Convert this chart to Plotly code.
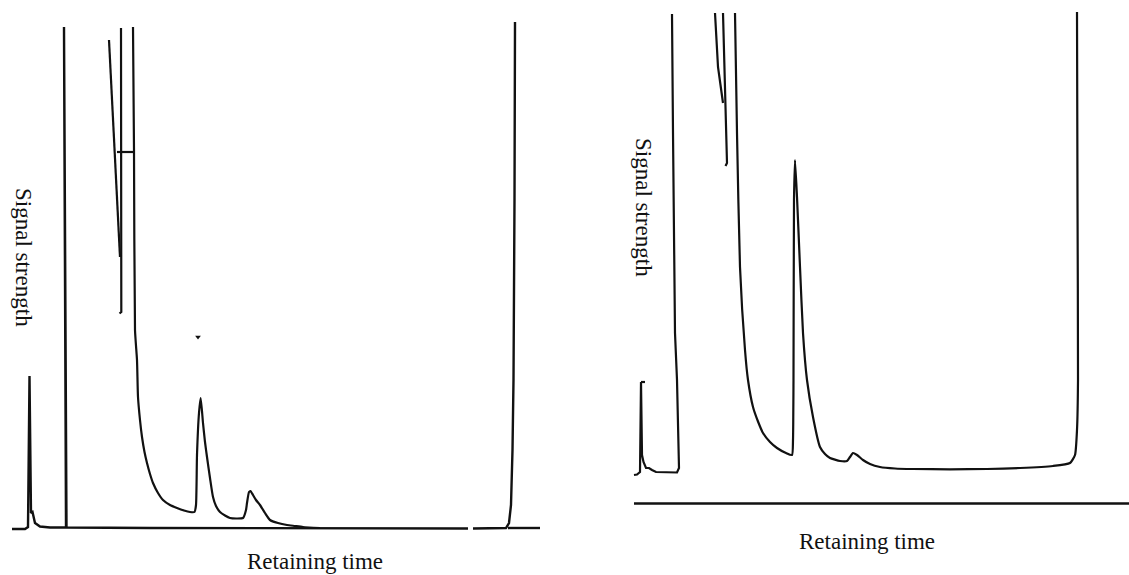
import plotly.graph_objects as go

# ---------------- Left chromatogram (time units, signal units above baseline) ----------------
left_base_t = [12, 25, 28, 29.5, 31, 32.5, 35, 40, 50, 66, 64, 66.5, 150, 300, 468,
               None, 473, 506, 509, 511, 512.5, 513.5, 514.5, 515,
               None, 508, 540]
left_base_s = [-1, -1, 1, 152, 15, 16, 5, 1.5, 0.5, 0.5, 501, 0.5, 0, 0, -0.5,
               None, -0.5, 0, 5, 23, 78, 148, 328, 506,
               None, 0, 0]

left_main_t = [133, 134, 135, 137, 138, 140, 142, 144.5, 147, 150, 153, 158, 163, 170, 177, 184, 190,
               194.5, 196, 197, 199, 200.7, 203, 205, 207, 210, 213, 216, 220, 225, 230, 237, 243,
               246, 247, 249, 250.5, 253, 256, 260, 265, 270, 278, 287, 295, 303, 320]
left_main_s = [501, 378, 198, 168, 131, 108, 91, 76, 65, 54, 45, 35, 28, 23, 20, 17.5, 16,
               16, 23, 73, 115, 130, 105, 86, 71, 50, 31, 22, 16, 12.5, 10, 9.5, 10,
               18, 25, 36, 37, 33, 28, 23, 15, 8, 5, 3, 2, 1, 0]

left_pen_t = [109, 120, None, 121, 121.3, 119.5, None, 117, 135]
left_pen_s = [488, 271, None, 500, 216, 214.5, None, 376, 376]

left_mark_t = [198]
left_mark_s = [191]

# ---------------- Right chromatogram ----------------
right_axis_t = [14, 509]
right_axis_s = [0, 0]

right_start_t = [14, 17, 20, 21, 22, 23.5, 26, 29, 32, 36, 57, 59, 57, 55, 53, 52,
                 None, 21, 25]
right_start_s = [28.5, 29, 31.5, 121.5, 48.5, 41.5, 35.5, 35.5, 33.5, 31.5, 31, 35.5, 123.5, 170.5, 370.5, 489.5,
                 None, 121.5, 121.5]

right_pen_t = [95, 98, 103, None, 103, 105, 107, 105.5]
right_pen_s = [490.5, 436.5, 400.5, None, 490.5, 403.5, 340.5, 337.5]

right_main_t = [115, 117, 120, 125, 128, 133, 138, 143, 150, 157, 166, 172, 173, 173.5, 174, 175, 177, 180, 183,
                187, 193, 200, 205, 210, 220, 227, 230, 233, 237, 243, 250, 260, 275, 293, 330, 367, 400, 433, 450,
                455, 457, 458, 457.5, 457]
right_main_s = [490.5, 370.5, 236.5, 153.5, 123.5, 96.5, 82, 70.5, 61.5, 55.5, 50.5, 48.5, 63.5, 123.5, 303.5, 343.5,
                306.5, 236.5, 170.5, 123.5, 86.5, 56.5, 49.5, 45.5, 42.5, 42.5, 46.5, 50.5, 48.5, 43.5, 39.5,
                36.5, 35, 34.5, 34.2, 34.5, 35.5, 37.5, 40.5, 48.5, 73.5, 123.5, 303.5, 491.5]

x_title = "Retaining time"
y_title = "Signal strength"

INK = "#111111"
LW = 2.2

fig = go.Figure()

def add_line(t, s, xa, ya, width=LW, shape="linear"):
    line = dict(color=INK, width=width, shape=shape)
    if shape == "spline":
        line["smoothing"] = 0.5
    fig.add_trace(go.Scatter(x=t, y=s, mode="lines", xaxis=xa, yaxis=ya,
                             line=line, connectgaps=False,
                             hoverinfo="skip", showlegend=False))

add_line(left_base_t, left_base_s, "x", "y", 2.4)
add_line(left_main_t, left_main_s, "x", "y", shape="spline")
add_line(left_pen_t, left_pen_s, "x", "y")
fig.add_trace(go.Scatter(x=left_mark_t, y=left_mark_s, mode="markers", xaxis="x", yaxis="y",
                         marker=dict(symbol="triangle-down", size=5, color=INK),
                         hoverinfo="skip", showlegend=False))

add_line(right_axis_t, right_axis_s, "x2", "y2", 2.4)
add_line(right_start_t, right_start_s, "x2", "y2")
add_line(right_pen_t, right_pen_s, "x2", "y2")
add_line(right_main_t, right_main_s, "x2", "y2", shape="spline")

W, H = 1129, 575
hidden = dict(visible=False, showgrid=False, zeroline=False, fixedrange=True)

fig.update_layout(
    width=W, height=H,
    margin=dict(l=0, r=0, t=0, b=0),
    paper_bgcolor="white", plot_bgcolor="white",
    xaxis=dict(domain=[0, 560 / W], range=[0, 560], **hidden),
    yaxis=dict(domain=[0, 1], range=[-47, 528], **hidden),
    xaxis2=dict(domain=[560 / W, 1], range=[-60, 509], anchor="y2", **hidden),
    yaxis2=dict(domain=[0, 1], range=[-71.5, 503.5], anchor="x2", **hidden),
    showlegend=False,
)

font = dict(family="Liberation Serif, Times New Roman, serif", size=23, color="#111111")

def ann(text, px, py, angle=0):
    fig.add_annotation(text=text, x=px / W, y=1 - py / H, xref="paper", yref="paper",
                       showarrow=False, textangle=angle, font=font,
                       xanchor="center", yanchor="middle")

ann(x_title, 315, 561)
ann(x_title, 867, 541)
ann(y_title, 24, 257, 90)
ann(y_title, 644, 207, 90)

fig.write_html("out.html")
